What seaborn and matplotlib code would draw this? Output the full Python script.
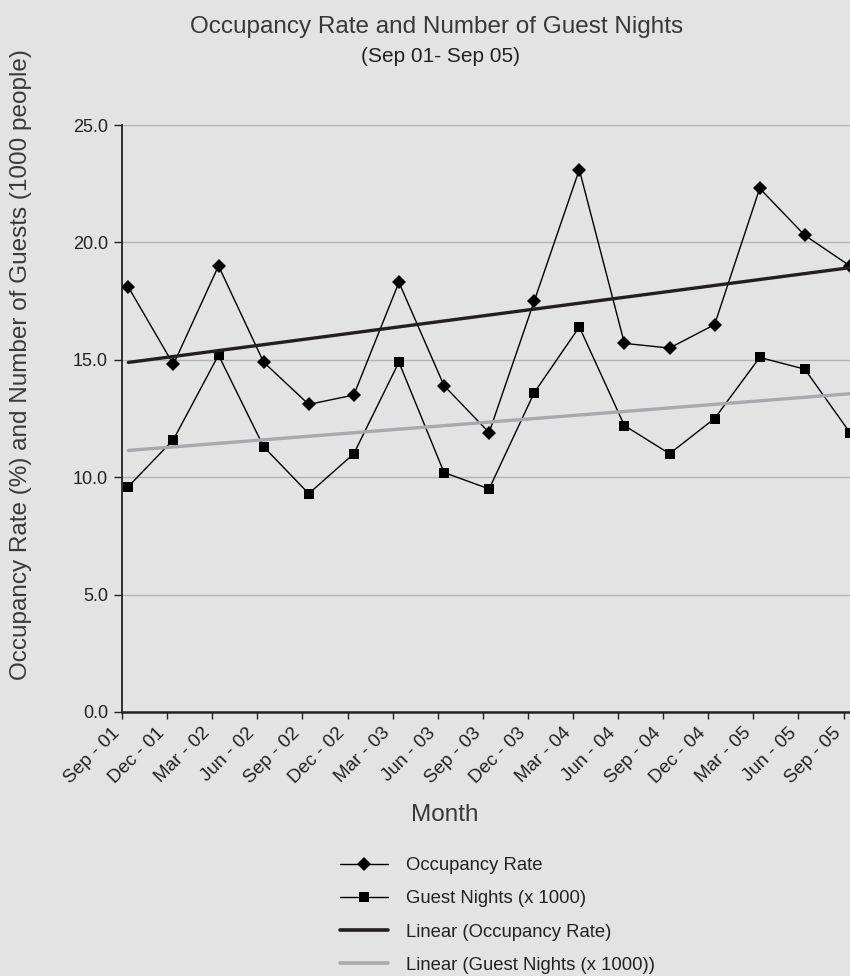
import numpy as np
import pandas as pd
import matplotlib
matplotlib.use("Agg")
import matplotlib.pyplot as plt
import matplotlib.transforms as mtransforms
from matplotlib.lines import Line2D
import seaborn as sns

# ---- data ----
months = ["Sep - 01", "Dec - 01", "Mar - 02", "Jun - 02", "Sep - 02", "Dec - 02",
          "Mar - 03", "Jun - 03", "Sep - 03", "Dec - 03", "Mar - 04", "Jun - 04",
          "Sep - 04", "Dec - 04", "Mar - 05", "Jun - 05", "Sep - 05"]
occupancy = [18.1, 14.8, 19.0, 14.9, 13.1, 13.5, 18.3, 13.9, 11.9, 17.5,
             23.1, 15.7, 15.5, 16.5, 22.3, 20.3, 19.0]
guest_nights = [9.6, 11.6, 15.2, 11.3, 9.3, 11.0, 14.9, 10.2, 9.5, 13.6,
                16.4, 12.2, 11.0, 12.5, 15.1, 14.6, 11.9]
y_ticks = [0.0, 5.0, 10.0, 15.0, 20.0, 25.0]

title = "Occupancy Rate and Number of Guest Nights"
subtitle = "(Sep 01- Sep 05)"
ylabel = "Occupancy Rate (%) and Number of Guests (1000 people)"
xlabel = "Month"
labels = ["Occupancy Rate", "Guest Nights (x 1000)",
          "Linear (Occupancy Rate)", "Linear (Guest Nights (x 1000))"]

df = pd.DataFrame({"idx": np.arange(len(months)), "month": months,
                   "occ": occupancy, "guest": guest_nights})

# ---- style ----
sns.set_style("white")
plt.rcParams["font.family"] = ["Liberation Sans", "DejaVu Sans"]
BG = "#e3e3e3"
TXT = "#222222"

W, H = 850, 976
fig = plt.figure(figsize=(W / 100, H / 100), dpi=100, facecolor=BG)

ax_left, ax_right, ax_top, ax_bottom = 122, 870, 125, 712
ax = fig.add_axes([ax_left / W, 1 - ax_bottom / H,
                   (ax_right - ax_left) / W, (ax_bottom - ax_top) / H])
ax.set_facecolor("none")

px_per_unit = 45.1
x0 = -0.14
ax.set_xlim(x0, x0 + (ax_right - ax_left) / px_per_unit)
ax.set_ylim(0, 25)

# data lines
sns.lineplot(data=df, x="idx", y="occ", ax=ax, color="black", lw=1.0,
             marker="D", markersize=7, markeredgewidth=0, zorder=3)
sns.lineplot(data=df, x="idx", y="guest", ax=ax, color="black", lw=1.0,
             marker="s", markersize=7, markeredgewidth=0, zorder=3)

# linear trend lines
sns.regplot(data=df, x="idx", y="occ", ax=ax, scatter=False, ci=None,
            truncate=True, line_kws=dict(color="#231f20", lw=2.4, zorder=4))
sns.regplot(data=df, x="idx", y="guest", ax=ax, scatter=False, ci=None,
            truncate=True, line_kws=dict(color="#a9a9ad", lw=2.4, zorder=4))

# axes styling
ax.set_yticks(y_ticks)
ax.set_yticklabels([f"{v:.1f}" for v in y_ticks], fontsize=13, color=TXT)
ax.set_xticks(np.arange(len(months)) + x0)
ax.set_xticklabels(months, rotation=45, ha="right", va="top",
                   rotation_mode="anchor", fontsize=13.5, color=TXT)
ax.tick_params(axis="y", length=6, width=1, color="#222222", pad=4, left=True)
ax.tick_params(axis="x", length=5, width=1, color="#222222", pad=4, bottom=True)
ax.grid(axis="y", color="#b2b2b2", lw=1.0, zorder=0)
ax.grid(axis="x", visible=False)
for s in ["top", "right"]:
    ax.spines[s].set_visible(False)
ax.spines["left"].set_color("#222222")
ax.spines["left"].set_linewidth(1.3)
ax.spines["bottom"].set_color("#222222")
ax.spines["bottom"].set_linewidth(1.8)
ax.set_xlabel("")
ax.set_ylabel("")

# shift rotated x tick labels slightly left (as in the reference)
shift = mtransforms.ScaledTranslation(-11 / 100, 0, fig.dpi_scale_trans)
for tick in ax.xaxis.get_major_ticks():
    tick.label1.set_transform(tick.label1.get_transform() + shift)

# texts
fig.text(437 / W, 1 - 33 / H, title, ha="center", va="baseline",
         fontsize=17.5, color="#383838")
fig.text(440 / W, 1 - 62 / H, subtitle, ha="center", va="baseline",
         fontsize=15, color="#222222")
fig.text(21 / W, 1 - 365 / H, ylabel, rotation=90, ha="center", va="center",
         fontsize=17.5, color="#3a3a3a")
fig.text(445 / W, 1 - 815 / H, xlabel, ha="center", va="center",
         fontsize=17.5, color="#383838")

# legend
handles = [
    Line2D([], [], color="black", lw=1.0, marker="D", markersize=7, markeredgewidth=0),
    Line2D([], [], color="black", lw=1.0, marker="s", markersize=7, markeredgewidth=0),
    Line2D([], [], color="#231f20", lw=2.6),
    Line2D([], [], color="#a9a9ad", lw=2.6),
]
leg = fig.legend(handles, labels, loc="upper left",
                 bbox_to_anchor=(340 / W, 1 - 857 / H), frameon=False,
                 fontsize=13.3, handlelength=2.6, handletextpad=1.0,
                 labelspacing=0.88, borderpad=0, borderaxespad=0)
for t in leg.get_texts():
    t.set_color(TXT)

fig.savefig("out.png", dpi=100, facecolor=BG)
